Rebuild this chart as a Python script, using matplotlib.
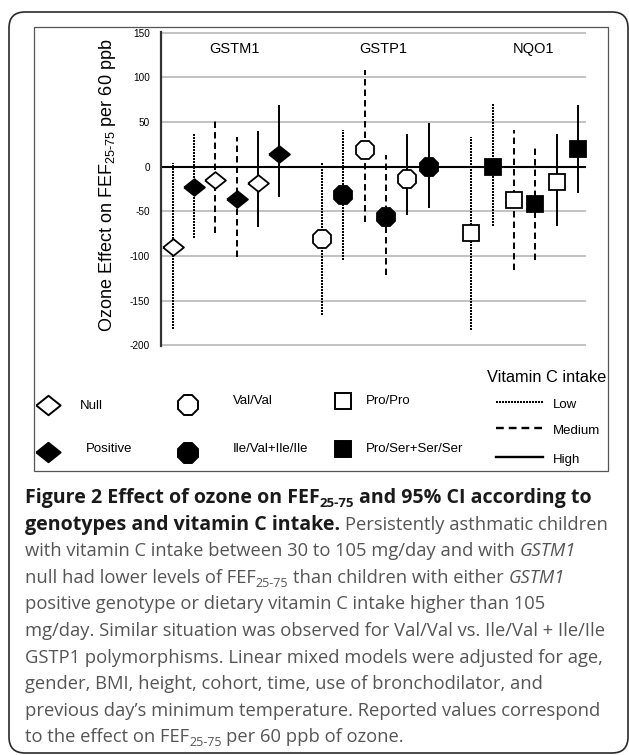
import matplotlib
matplotlib.use('Agg')
import matplotlib.pyplot as plt
from matplotlib.patches import FancyBboxPatch, Rectangle

plt.rcParams['font.family'] = ['Liberation Sans', 'DejaVu Sans']
plt.rcParams['axes.unicode_minus'] = False
plt.rcParams['mathtext.fontset'] = 'custom'
plt.rcParams['mathtext.rm'] = 'Liberation Sans'
plt.rcParams['mathtext.it'] = 'Liberation Sans:italic'
plt.rcParams['mathtext.bf'] = 'Liberation Sans:bold'

# data: order within each gene = low/low, medium/medium, high/high (open, filled)
groups = ['GSTM1', 'GSTP1', 'NQO1']
levels = ['Low', 'Medium', 'High']
gstm1_est = [-90, -23, -15, -36, -18, 14]
gstm1_lo = [-182, -80, -74, -101, -68, -34]
gstm1_hi = [4, 37, 55, 33, 40, 69]
gstp1_est = [-81, -32, 19, -56, -14, 0]
gstp1_lo = [-166, -105, -62, -121, -54, -46]
gstp1_hi = [4, 41, 108, 13, 37, 49]
nqo1_est = [-74, 0, -37, -42, -17, 20]
nqo1_lo = [-183, -67, -116, -105, -67, -30]
nqo1_hi = [33, 70, 41, 24, 37, 69]
geno_labels = [['Null', 'Positive'], ['Val/Val', 'Ile/Val+Ile/Ile'], ['Pro/Pro', 'Pro/Ser+Ser/Ser']]
yticks = [150, 100, 50, 0, -50, -100, -150, -200]

est = [gstm1_est, gstp1_est, nqo1_est]
lo = [gstm1_lo, gstp1_lo, nqo1_lo]
hi = [gstm1_hi, gstp1_hi, nqo1_hi]

diamond = [(-1, 0), (0, 0.8), (1, 0), (0, -0.8), (-1, 0)]
markers = [diamond, '8', 's']
msizes = [15, 13.6, 11]
styles = {'Low': (0, (0.7, 0.7)), 'Medium': (0, (3.3, 2.1)), 'High': '-'}

W, H = 629, 755
fig = plt.figure(figsize=(W / 100, H / 100), dpi=100)

# overlay in pixel coords for frame, legend and caption
ov = fig.add_axes([0, 0, 1, 1])
ov.set_xlim(0, W)
ov.set_ylim(H, 0)
ov.axis('off')
ov.add_patch(FancyBboxPatch((9, 12), 619, 741, boxstyle='round,pad=0,rounding_size=16',
                            fc='white', ec='#2a2a2a', lw=1.2))
ov.add_patch(Rectangle((34, 27), 574, 444, fill=False, ec='#555555', lw=0.9))

ax = fig.add_axes([161 / W, 1 - 346 / H, (586 - 161) / W, (346 - 32) / H])
ax.set_facecolor('none')
ax.set_ylim(-201, 151)
ax.set_xlim(-0.54, 19.38)
ax.set_yticks(yticks)
ax.set_xticks([])
ax.yaxis.grid(True, color='#b8b8b8', lw=1.2)
ax.set_axisbelow(True)
for s in ['top', 'right', 'bottom']:
    ax.spines[s].set_visible(False)
ax.spines['left'].set_color('#333333')
ax.spines['left'].set_linewidth(1.6)
ax.tick_params(axis='y', length=0, pad=8, labelsize=7.2)
ax.axhline(0, color='black', lw=1.5, zorder=1.5)

for g, name in enumerate(groups):
    for i in range(6):
        x = g * 7 + i
        lev = levels[i // 2]
        ax.vlines(x, lo[g][i], hi[g][i], colors='black', lw=1.4,
                  linestyles=styles[lev], antialiased=(lev != 'Low'), zorder=2)
        filled = i % 2 == 1
        ax.plot([x], [est[g][i]], ls='none', marker=markers[g], ms=msizes[g],
                mfc='black' if filled else 'white', mec='black', mew=1.3, zorder=3)
    ax.text(g * 7 + 2.9, 150 - 18, name, ha='center', va='center', fontsize=10.5)

fig.text(108 / W, 1 - 185 / H, r'Ozone Effect on FEF$_{\mathrm{25\text{-}75}}$ per 60 ppb',
         rotation=90, ha='center', va='center', fontsize=13)

# legend
leg_x = [48, 188, 342.5]
leg_txt_x = [[80, 86], [233, 233], [366, 366]]
leg_rows = [[405, 452], [405, 453], [401, 449]]
leg_txt_y = [[406, 449], [401, 449], [401, 449]]
leg_ms = [17.5, 15.5, 12]
for g in range(3):
    for k in range(2):
        ov.plot([leg_x[g]], [leg_rows[g][k]], ls='none', marker=markers[g], ms=leg_ms[g],
                mfc='black' if k else 'white', mec='black', mew=1.4)
        ov.text(leg_txt_x[g][k], leg_txt_y[g][k], geno_labels[g][k], ha='left', va='center',
                fontsize=9.5)
ov.text(487, 377, 'Vitamin C intake', ha='left', va='center', fontsize=11.8)
leg_line_y = [402, 428, 457]
leg_styles = [(0, (0.7, 0.7)), (0, (3.3, 2.1)), '-']
for k, lev in enumerate(levels):
    ov.plot([496, 543], [leg_line_y[k]] * 2, color='black', lw=1.7 if k else 1.4,
            ls=leg_styles[k], antialiased=bool(k))
    ov.text(553, leg_line_y[k] + 3, lev, ha='left', va='center', fontsize=9.5)

# caption
renderer = fig.canvas.get_renderer()
cap_font = ['Open Sans', 'DejaVu Sans']
fmt = {
    'b': dict(fontweight='bold', color='#1a1a1a'),
    'r': dict(fontweight='normal', color='#555555'),
    'i': dict(fontweight='normal', fontstyle='italic', color='#555555'),
}

caption = [
    [('Figure 2 Effect of ozone on FEF', 'b', 0), ('25-75', 'b', 1), (' and 95% CI according to', 'b', 0)],
    [('genotypes and vitamin C intake.', 'b', 0), (' Persistently asthmatic children', 'r', 0)],
    [('with vitamin C intake between 30 to 105 mg/day and with ', 'r', 0), ('GSTM1', 'i', 0)],
    [('null had lower levels of FEF', 'r', 0), ('25-75', 'r', 1), (' than children with either ', 'r', 0),
     ('GSTM1', 'i', 0)],
    [('positive genotype or dietary vitamin C intake higher than 105', 'r', 0)],
    [('mg/day. Similar situation was observed for Val/Val vs. Ile/Val + Ile/Ile', 'r', 0)],
    [('GSTP1 polymorphisms. Linear mixed models were adjusted for age,', 'r', 0)],
    [('gender, BMI, height, cohort, time, use of bronchodilator, and', 'r', 0)],
    [('previous day\u2019s minimum temperature. Reported values correspond', 'r', 0)],
    [('to the effect on FEF', 'r', 0), ('25-75', 'r', 1), (' per 60 ppb of ozone.', 'r', 0)],
]


def width(s, size, kw):
    t = ov.text(0, 0, '|' + s + '|', fontsize=size, family=cap_font, **kw)
    w1 = t.get_window_extent(renderer).width
    t.set_text('||')
    w0 = t.get_window_extent(renderer).width
    t.remove()
    return w1 - w0


def put_line(line, base, sizes, draw=True):
    x = 25
    for s, st, sub in line:
        size = sizes[st] * (0.68 if sub else 1)
        stripped = s.strip(' ')
        lead = len(s) - len(s.lstrip(' '))
        trail = len(s) - len(s.rstrip(' '))
        sp = width(' ', size, fmt[st])
        x += lead * sp
        if draw:
            ov.text(x, base + (4 if sub else 0), stripped, ha='left', va='baseline',
                    fontsize=size, family=cap_font, **fmt[st])
        x += width(stripped, size, fmt[st]) + trail * sp
    return x - 25


# fit sizes to the measured line lengths of the printed caption
trial = {'b': 12, 'r': 12, 'i': 12}
reg_size = 12 * 576 / put_line(caption[5], 0, trial, draw=False)
bold_size = 12 * 565 / put_line(caption[0], 0, trial, draw=False)
sizes = {'b': bold_size, 'r': reg_size, 'i': reg_size}

for n, line in enumerate(caption):
    put_line(line, 503 + 26.6 * n, sizes)

fig.savefig('out.png', dpi=100)
